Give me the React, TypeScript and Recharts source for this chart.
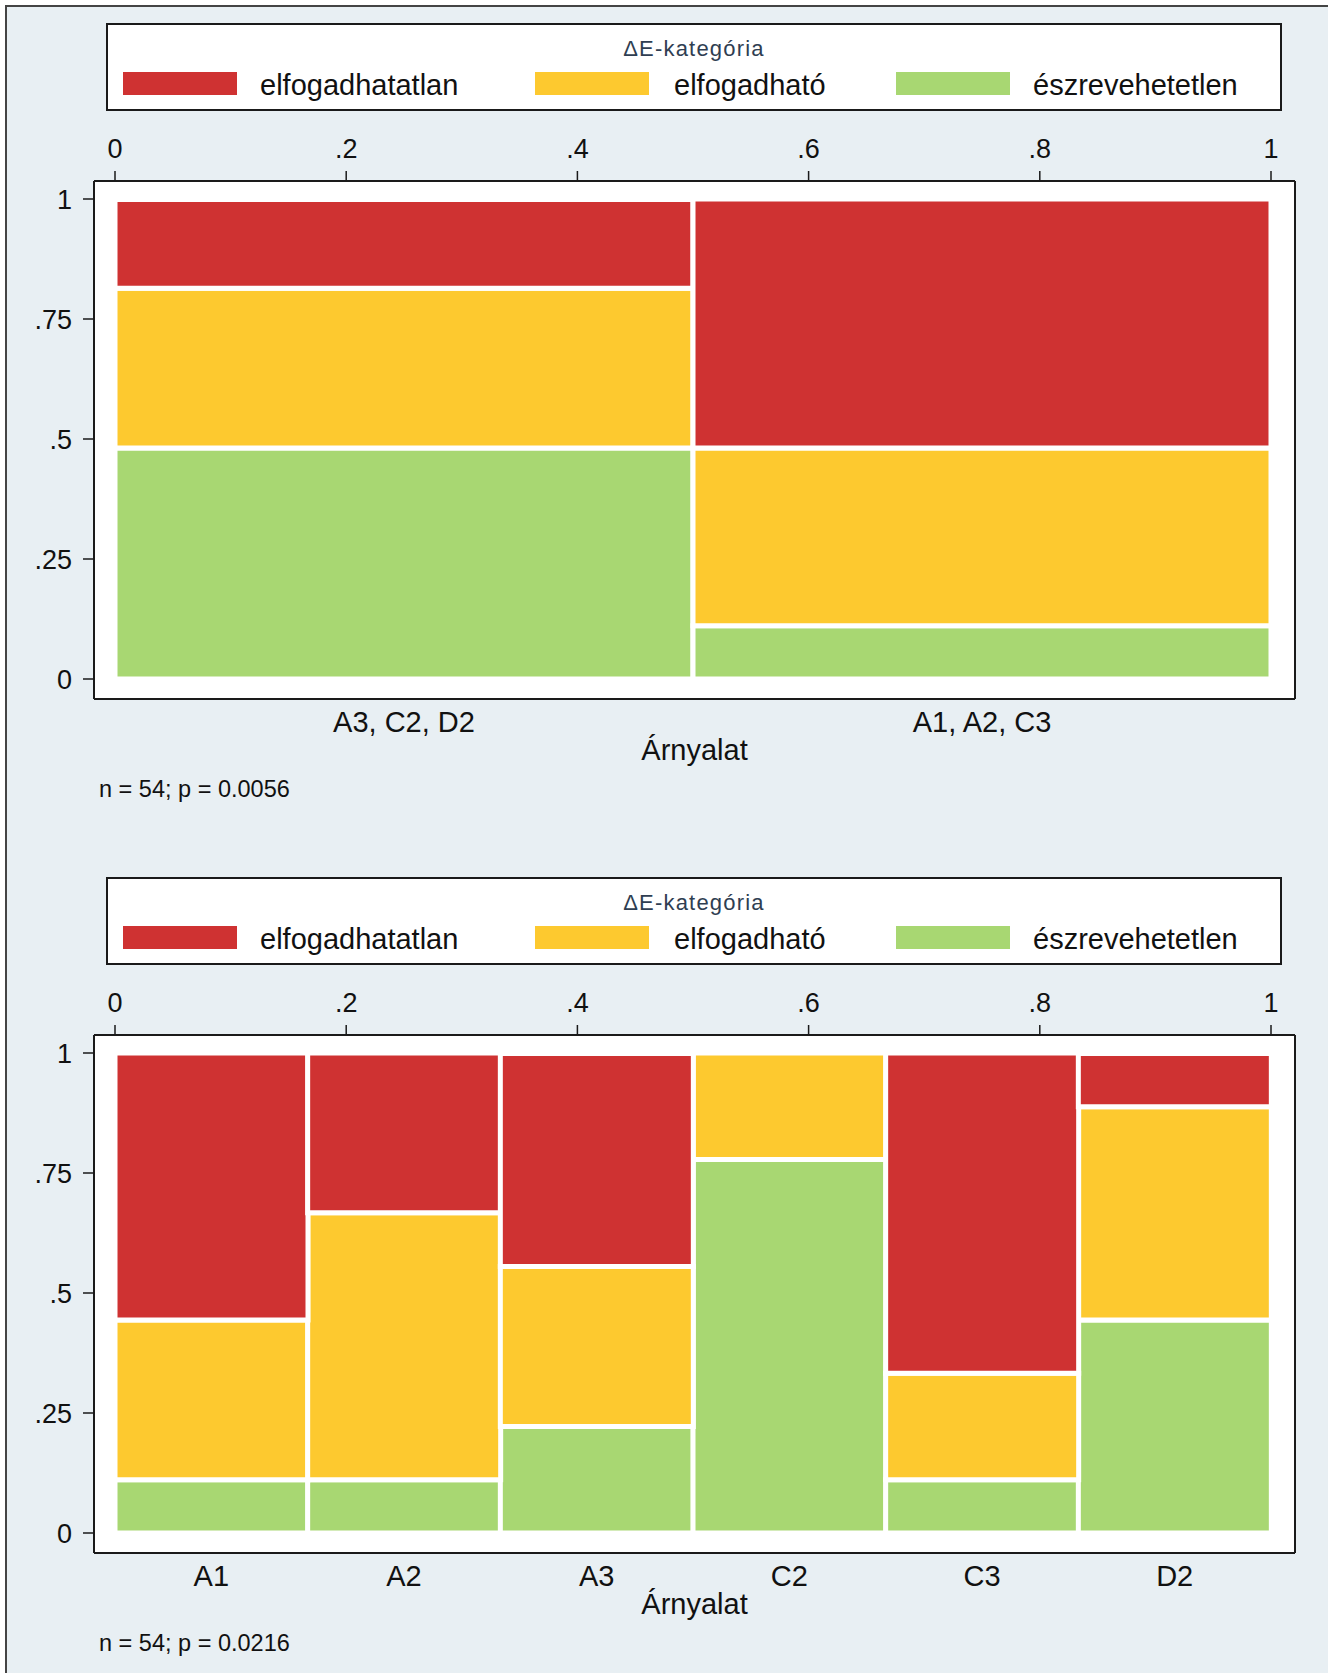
import React from 'react';
import { ComposedChart, Bar, XAxis, YAxis, CartesianGrid, Label } from 'recharts';

const FONT = '"Liberation Sans", Arial, sans-serif';

// ΔE categories (legend order) and their fills
const levels = ['elfogadhatatlan', 'elfogadható', 'észrevehetetlen'];
const levelColors = ['#cf3232', '#fdc92f', '#a8d772'];

// top panel: grouped shades
const groupsTop = ['A3, C2, D2', 'A1, A2, C3'];
const shareTop = [0.5, 0.5];
const greenTop = [0.481, 0.111];
const yellowTop = [0.333, 0.37];
const redTop = [0.185, 0.519];

// bottom panel: single shades
const groupsBottom = ['A1', 'A2', 'A3', 'C2', 'C3', 'D2'];
const shareBottom = [0.167, 0.167, 0.167, 0.167, 0.167, 0.167];
const greenBottom = [0.111, 0.111, 0.222, 0.778, 0.111, 0.444];
const yellowBottom = [0.333, 0.556, 0.333, 0.222, 0.222, 0.444];
const redBottom = [0.556, 0.333, 0.444, 0, 0.667, 0.111];

const xTicks = [0, 0.2, 0.4, 0.6, 0.8, 1];
const yTicks = [0, 0.25, 0.5, 0.75, 1];

const notes = ['n = 54; p = 0.0056', 'n = 54; p = 0.0216'];

const fmt = (v: number) => (v === 0 || v === 1 ? String(v) : String(v).replace(/^0/, ''));

const tickStyle = { fill: '#111', fontSize: 27, fontFamily: FONT };
const lineStyle = { stroke: '#1a1a1a', strokeWidth: 2 };

function LegendBox() {
  const swatchX = [123, 535, 896];
  const textX = [260, 674, 1033];
  return (
    <div
      style={{
        position: 'absolute',
        left: 106,
        top: 23,
        width: 1172,
        height: 84,
        background: '#fff',
        border: '2px solid #1a1a1a',
      }}
    >
      <div
        style={{
          position: 'absolute',
          left: 0,
          width: '100%',
          top: 13,
          textAlign: 'center',
          fontFamily: FONT,
          fontSize: 22,
          lineHeight: '22px',
          letterSpacing: 1.2,
          color: '#2f3e52',
        }}
      >
        ΔE-kategória
      </div>
      {levels.map((name, i) => (
        <React.Fragment key={name}>
          <div
            style={{
              position: 'absolute',
              left: swatchX[i] - 108,
              top: 47,
              width: 114,
              height: 23,
              background: levelColors[i],
            }}
          />
          <div
            style={{
              position: 'absolute',
              left: textX[i] - 108,
              top: 46,
              fontFamily: FONT,
              fontSize: 29,
              lineHeight: '29px',
              color: '#111',
              whiteSpace: 'nowrap',
            }}
          >
            {name}
          </div>
        </React.Fragment>
      ))}
    </div>
  );
}

interface PanelProps {
  top: number;
  groups: string[];
  share: number[];
  green: number[];
  yellow: number[];
  red: number[];
  note: string;
}

function SpinePanel({ top, groups, share, green, yellow, red, note }: PanelProps) {
  const data = groups.map((g, i) => ({ group: g, share: share[i], green: green[i], yellow: yellow[i], red: red[i] }));
  const series = [
    { key: 'green', color: levelColors[2] },
    { key: 'yellow', color: levelColors[1] },
    { key: 'red', color: levelColors[0] },
  ];
  return (
    <div style={{ position: 'absolute', left: 0, top, width: 1328, height: 840 }}>
      <LegendBox />
      <div style={{ position: 'absolute', left: 0, top: 0 }}>
        <ComposedChart
          width={1328}
          height={770}
          data={data}
          margin={{ top: 141, right: 32, bottom: 1, left: 34 }}
          barCategoryGap={0}
          barGap={0}
        >
          <CartesianGrid xAxisId="cat" yAxisId="y" horizontal={false} vertical={false} fill="#fff" />
          <XAxis
            xAxisId="top"
            orientation="top"
            dataKey="share"
            type="number"
            domain={[0, 1]}
            allowDataOverflow
            ticks={xTicks}
            interval={0}
            tickFormatter={fmt}
            padding={{ left: 21, right: 24 }}
            height={40}
            tickSize={10}
            tickMargin={13}
            tick={tickStyle}
            tickLine={{ stroke: '#1a1a1a', strokeWidth: 1.5 }}
            axisLine={lineStyle}
          />
          <XAxis
            xAxisId="cat"
            dataKey="group"
            type="category"
            padding={{ left: 21, right: 24 }}
            height={70}
            interval={0}
            tickLine={false}
            tickSize={0}
            tickMargin={12}
            tick={{ ...tickStyle, fontSize: 29 }}
            axisLine={lineStyle}
          >
            <Label value="Árnyalat" position="insideBottom" offset={9} fill="#111" fontSize={29} fontFamily={FONT} />
          </XAxis>
          <YAxis
            yAxisId="y"
            type="number"
            domain={[0, 1]}
            ticks={yTicks}
            interval={0}
            tickFormatter={fmt}
            padding={{ top: 18, bottom: 20 }}
            width={60}
            tickSize={11}
            tickMargin={11}
            tick={tickStyle}
            tickLine={{ stroke: '#1a1a1a', strokeWidth: 1.5 }}
            axisLine={lineStyle}
          />
          <YAxis yAxisId="r" orientation="right" domain={[0, 1]} width={1} tick={false} tickLine={false} axisLine={lineStyle} />
          {series.map((s) => (
            <Bar
              key={s.key}
              dataKey={s.key}
              stackId="s"
              xAxisId="cat"
              yAxisId="y"
              fill={s.color}
              stroke="#fff"
              strokeWidth={5}
              isAnimationActive={false}
            />
          ))}
        </ComposedChart>
      </div>
      <div
        style={{
          position: 'absolute',
          left: 99,
          top: 777,
          fontFamily: FONT,
          fontSize: 23.5,
          lineHeight: '24px',
          color: '#111',
          whiteSpace: 'nowrap',
        }}
      >
        {note}
      </div>
    </div>
  );
}

export default function App() {
  return (
    <div style={{ position: 'absolute', left: 0, top: 0, width: 1328, height: 1673, background: '#fff', overflow: 'hidden' }}>
      <div
        style={{
          position: 'absolute',
          left: 5,
          top: 5,
          right: 0,
          bottom: 0,
          background: '#e8eff3',
          borderLeft: '2px solid #444',
          borderTop: '2px solid #444',
        }}
      />
      <SpinePanel top={0} groups={groupsTop} share={shareTop} green={greenTop} yellow={yellowTop} red={redTop} note={notes[0]} />
      <SpinePanel
        top={854}
        groups={groupsBottom}
        share={shareBottom}
        green={greenBottom}
        yellow={yellowBottom}
        red={redBottom}
        note={notes[1]}
      />
    </div>
  );
}
